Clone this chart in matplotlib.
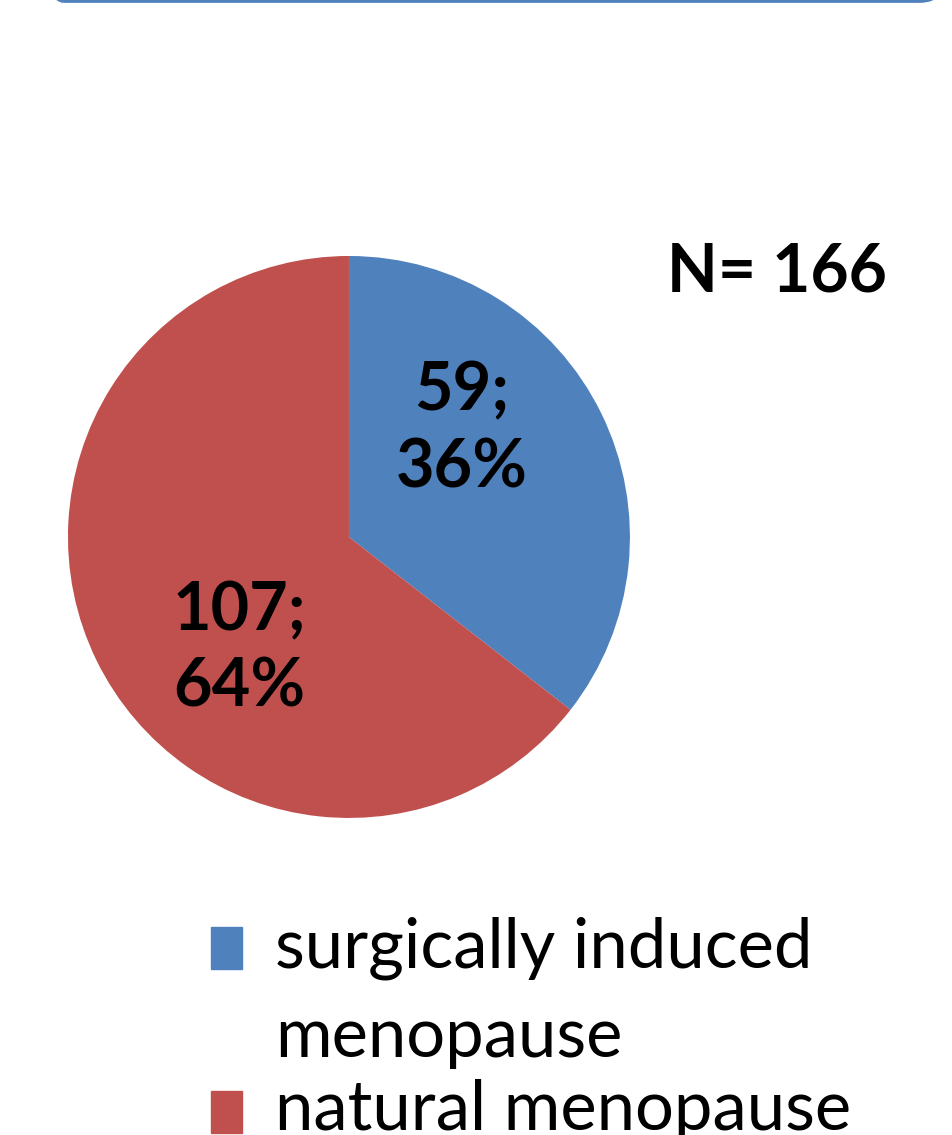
import matplotlib.pyplot as plt
from matplotlib.patches import Rectangle, FancyBboxPatch

# data
labels = ["surgically induced menopause", "natural menopause"]
counts = [59, 107]
colors = ["#4F81BD", "#C0504D"]
total_n = 166

plt.rcParams["font.family"] = ["Lato", "DejaVu Sans"]

fig = plt.figure(figsize=(9.52, 11.35), dpi=100)

# rounded blue frame, only the bottom edge shows at the top of the image
frame = FancyBboxPatch((35 / 952, 0.999), 913 / 952, 0.2, boxstyle="round,pad=0,rounding_size=0.03",
                       transform=fig.transFigure, fill=False, edgecolor="#4F81BD", linewidth=2.5)
fig.patches.append(frame)

ax = fig.add_axes([0.0714, 0.2793, 0.5903, 0.4952])
wedges, _ = ax.pie(counts, colors=colors, startangle=90, counterclock=False, radius=1)
ax.set_xlim(-1, 1)
ax.set_ylim(-1, 1)
ax.set_aspect("equal")
ax.axis("off")

pct = [round(100 * c / total_n) for c in counts]
label_pos = [(0.40, 0.38), (-0.39, -0.40)]
for (x, y), c, p in zip(label_pos, counts, pct):
    ax.text(x, y, f"{c};\n{p}%", ha="center", va="center", fontsize=48,
            fontweight="bold", linespacing=1.3)

fig.text(777 / 952, 1 - 272 / 1135, f"N= {total_n}", ha="center", va="center",
         fontsize=47.5, fontweight="bold")

# legend, drawn by hand to keep Excel's wrapping
legend_lines = [["surgically induced", "menopause"], ["natural menopause"]]
box_y = [948, 1112]
text_base = [[968, 1057], [1130]]
for col, lines, by, bases in zip(colors, legend_lines, box_y, text_base):
    fig.patches.append(Rectangle((211 / 952, 1 - (by + 21) / 1135), 31 / 952, 42 / 1135,
                                 transform=fig.transFigure, color=col))
    for line, b in zip(lines, bases):
        fig.text(275 / 952, 1 - b / 1135, line, ha="left", va="baseline", fontsize=49.5)

fig.savefig("out.png", dpi=100)
